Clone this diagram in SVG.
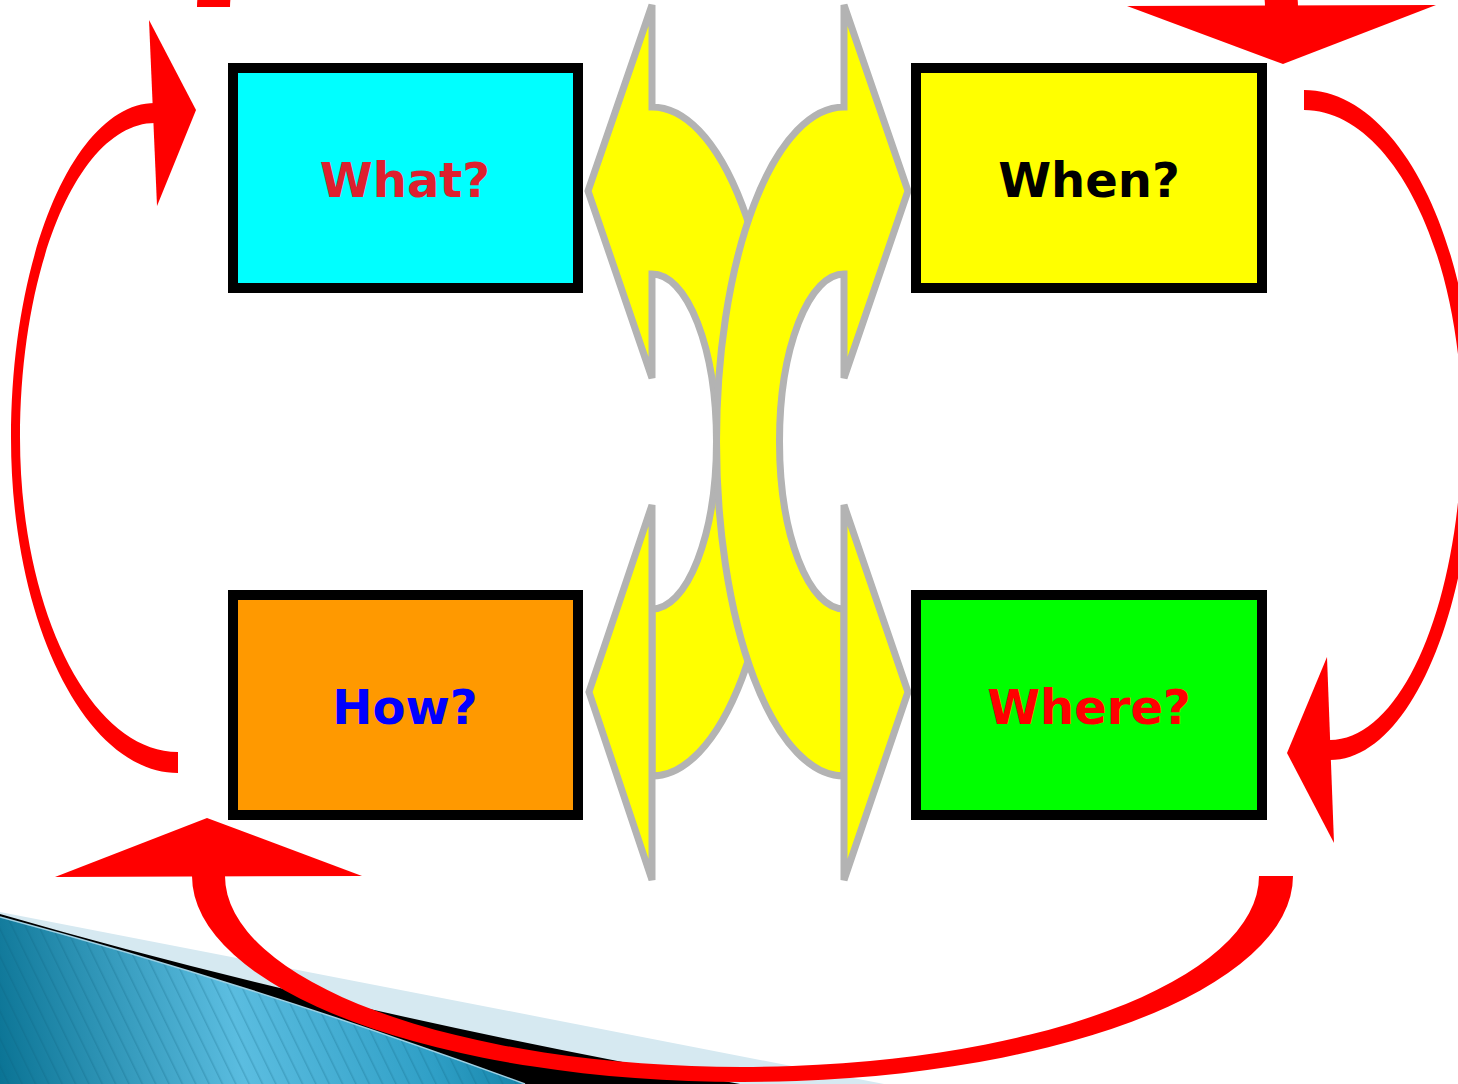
<svg xmlns="http://www.w3.org/2000/svg" width="1458" height="1084" viewBox="0 0 1458 1084">
  <style>
    .box { stroke: #000000; stroke-width: 10; }
    .lbl { font-family: "DejaVu Sans", Verdana, sans-serif; font-weight: bold; font-size: 48px; text-anchor: middle; }
    .yarrow { fill: #FFFF00; stroke: #B3B3B3; stroke-width: 7; stroke-linejoin: miter; stroke-miterlimit: 4; }
    .red { fill: #FF0000; stroke: none; }
  </style>
  <defs>
    <linearGradient id="blueGrad" gradientUnits="userSpaceOnUse" x1="0" y1="1084" x2="530" y2="990">
      <stop offset="0" stop-color="#0a7394"/>
      <stop offset="0.45" stop-color="#5bbde0"/>
      <stop offset="0.8" stop-color="#2f9fc6"/>
      <stop offset="1" stop-color="#0f7ea2"/>
    </linearGradient>
    <pattern id="stripes" patternUnits="userSpaceOnUse" width="12" height="12" patternTransform="rotate(-26)">
      <rect x="0" y="0" width="1.5" height="12" fill="#0a5f7c" fill-opacity="0.25"/>
    </pattern>
  </defs>
  <rect x="0" y="0" width="1458" height="1084" fill="#FFFFFF"/>

  <g id="background-decoration">
    <path d="M0,912 L884,1084 L0,1084 Z" fill="#D6E9F1"/>
    <path d="M0,914 Q330,1010 740,1084 L0,1084 Z" fill="#000000"/>
    <path d="M0,917 Q255,985 525,1084 L0,1084 Z" fill="url(#blueGrad)"/>
    <path d="M0,917 Q255,985 525,1084 L0,1084 Z" fill="url(#stripes)"/>
    <path d="M0,917 Q255,985 525,1084" fill="none" stroke="#9fd0e3" stroke-width="1.5"/>
  </g>

  <g id="connectors">
    <!-- bottom arc: Where? -> How? -->
    <path class="red" d="M192,876 A550.5 206 0 0 0 1293,876 L1259,876 A517 191 0 0 1 225,876 Z"/>
    <polygon class="red" points="55,877 207,818 362,876"/>
    <!-- top arc (mostly off-canvas): -> When? -->
    <path class="red" d="M197,7 A550.5 206 0 0 1 1298,7 L1265,7 A517.5 191 0 0 0 230,7 Z"/>
    <polygon class="red" points="1127,6 1283,64 1436,5"/>
    <!-- left arc: How? -> What? -->
    <path class="red" d="M178,773 C86,773 11,623 11,438 C11,253 76,103 155,103 L155,123 C80,123 20,264 20,437.5 C20,611 91,752 178,752 Z"/>
    <polygon class="red" points="149,20 196,110 157,206"/>
    <!-- right arc: When? -> Where? -->
    <path class="red" d="M1304,90 C1398,90 1474,240 1474,425 C1474,610 1409,760 1330,760 L1330,740 C1403,740 1462,599 1462,425 C1462,251 1391,110 1304,110 Z"/>
    <polygon class="red" points="1327,657 1287,753 1334,843"/>
    <!-- central yellow curved arrows -->
    <g id="yellow-arrows">
      <path class="yarrow" d="M652,107 L652,5 L588,191 L652,378 L652,274 A64.5 167.5 0 0 1 652,609 L652,776 A127.5 334.5 0 0 0 652,107 Z"/>
      <path class="yarrow" d="M652,505 L589,692 L652,880 Z"/>
      <path class="yarrow" d="M844,107 L844,5 L908,191 L844,378 L844,274 A64.5 167.5 0 0 0 844,609 L844,776 A127.5 334.5 0 0 1 844,107 Z"/>
      <path class="yarrow" d="M844,505 L908,692 L844,880 Z"/>
    </g>
  </g>

  <g id="node-what">
    <rect class="box" x="233" y="68" width="345" height="220" fill="#00FFFF"/>
    <text class="lbl" x="405" y="197" fill="#DE1F2E">What?</text>
  </g>
  <g id="node-when">
    <rect class="box" x="916" y="68" width="346" height="220" fill="#FFFF00"/>
    <text class="lbl" x="1089" y="197" fill="#000000">When?</text>
  </g>
  <g id="node-how">
    <rect class="box" x="233" y="595" width="345" height="220" fill="#FF9900"/>
    <text class="lbl" x="405" y="724" fill="#0000FF">How?</text>
  </g>
  <g id="node-where">
    <rect class="box" x="916" y="595" width="346" height="220" fill="#00FF00"/>
    <text class="lbl" x="1089" y="724" fill="#FF0000">Where?</text>
  </g>
</svg>
